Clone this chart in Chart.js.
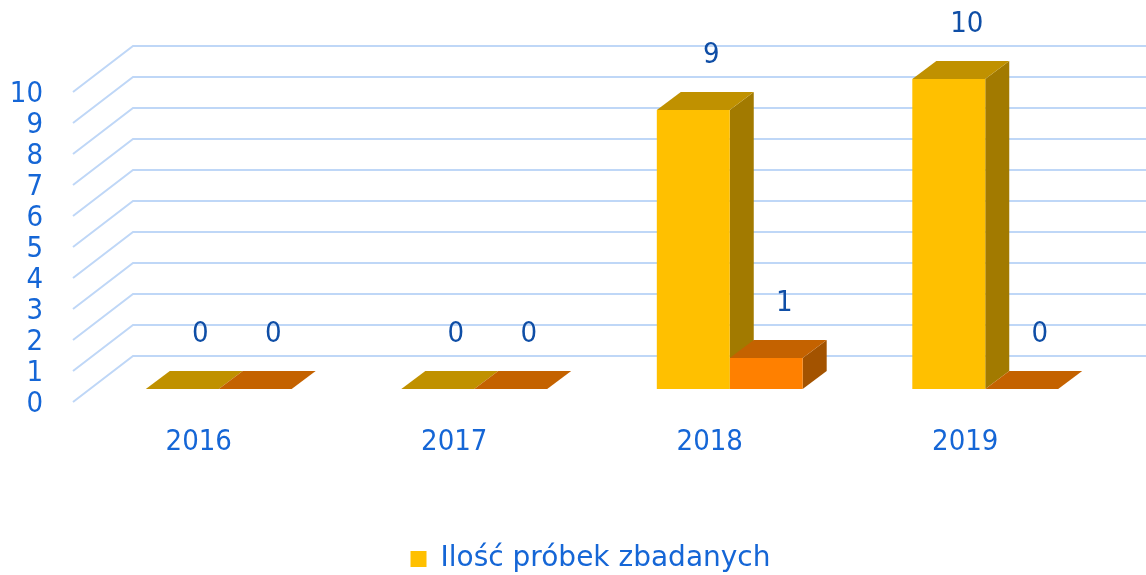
<!DOCTYPE html>
<html>
<head>
<meta charset="utf-8">
<script src="https://cdn.jsdelivr.net/npm/chart.js@4.4.1/dist/chart.umd.min.js"></script>
<style>
  html, body { margin: 0; padding: 0; background: #ffffff; }
  #wrap { width: 1146px; height: 575px; }
</style>
</head>
<body>
<div id="wrap"><canvas id="chart" width="1146" height="575"></canvas></div>
<script>
// Sample counts per year
const years = ['2016', '2017', '2018', '2019'];
const testedSamples = [0, 0, 9, 10];
const positiveSamples = [0, 0, 1, 0];
const legendLabel = 'Ilość próbek zbadanych';
const yMin = 0;
const yMax = 10;
const yStep = 1;

const FONT = "'DejaVu Sans', Verdana, sans-serif";
const NUM_FONT = "'DejaVu Sans Condensed', 'DejaVu Sans', sans-serif";
const AXIS_BLUE = '#1566d6';
const LABEL_BLUE = '#0f4ea6';

// Face colours for the pseudo-3D columns: front / top / side
const faces = [
  { front: '#ffc000', top: '#c09100', side: '#a27a00' },
  { front: '#ff8000', top: '#c46200', side: '#a35300' }
];

// Oblique projection offsets
const BAR_DX = 24, BAR_DY = -18;      // column depth
const FRONT_DX = -18, FRONT_DY = 13;  // from the column plane to the front edge of the floor
const BACK_DX = 42, BACK_DY = -33;    // from the column plane to the back wall

function poly(ctx, pts, color) {
  ctx.beginPath();
  ctx.moveTo(pts[0][0], pts[0][1]);
  for (let i = 1; i < pts.length; i++) ctx.lineTo(pts[i][0], pts[i][1]);
  ctx.closePath();
  ctx.fillStyle = color;
  ctx.fill();
}

const box3d = {
  id: 'box3d',
  afterLayout(chart) {
    // legend sits slightly right of centre and low on the canvas
    const lg = chart.legend;
    if (lg) {
      lg.left += 34; lg.right += 34;
      lg.top += 8; lg.bottom += 8;
    }
  },
  beforeDatasetsDraw(chart) {
    const { ctx, chartArea, scales: { y } } = chart;
    ctx.save();
    // back wall and side wall grid
    ctx.strokeStyle = '#bfd7f7';
    ctx.lineWidth = 2;
    y.ticks.forEach(t => {
      const py = y.getPixelForValue(t.value);
      const fx = chartArea.left + FRONT_DX, fy = py + FRONT_DY;
      const bx = chartArea.left + BACK_DX, by = py + BACK_DY;
      ctx.beginPath();
      ctx.moveTo(fx, fy);
      ctx.lineTo(bx, by);
      ctx.lineTo(chart.width, by);
      ctx.stroke();
    });
    // top and side faces of the columns, series by series left to right;
    // front faces are painted afterwards by the bar controller
    chart.data.datasets.forEach((ds, di) => {
      const meta = chart.getDatasetMeta(di);
      const f = faces[di];
      meta.data.forEach(bar => {
        const p = bar.getProps(['x', 'y', 'base', 'width'], true);
        const l = p.x - p.width / 2, r = p.x + p.width / 2;
        const top = Math.min(p.y, p.base), base = Math.max(p.y, p.base);
        poly(ctx, [[r, top], [r + BAR_DX, top + BAR_DY], [r + BAR_DX, base + BAR_DY], [r, base]], f.side);
        poly(ctx, [[l, top], [r, top], [r + BAR_DX, top + BAR_DY], [l + BAR_DX, top + BAR_DY]], f.top);
      });
    });
    ctx.restore();
  },
  afterDatasetsDraw(chart) {
    const { ctx } = chart;
    ctx.save();
    ctx.font = '29px ' + NUM_FONT;
    ctx.fillStyle = LABEL_BLUE;
    ctx.textAlign = 'center';
    ctx.textBaseline = 'alphabetic';
    chart.data.datasets.forEach((ds, di) => {
      const meta = chart.getDatasetMeta(di);
      meta.data.forEach((bar, i) => {
        const p = bar.getProps(['x', 'y'], true);
        ctx.fillText(String(ds.data[i]), p.x + 18, p.y - 47);
      });
    });
    ctx.restore();
  }
};

new Chart(document.getElementById('chart'), {
  type: 'bar',
  data: {
    labels: years,
    datasets: [
      {
        label: legendLabel,
        data: testedSamples,
        backgroundColor: faces[0].front,
        borderWidth: 0
      },
      {
        label: 'positive',
        data: positiveSamples,
        backgroundColor: faces[1].front,
        borderWidth: 0
      }
    ]
  },
  options: {
    responsive: false,
    devicePixelRatio: 1,
    animation: false,
    layout: { padding: { top: 79, right: 33, left: 0, bottom: 0 } },
    datasets: {
      bar: { categoryPercentage: 0.571, barPercentage: 1.0 }
    },
    scales: {
      x: {
        grid: { display: false, drawTicks: false },
        border: { display: false },
        ticks: {
          color: AXIS_BLUE,
          font: { family: NUM_FONT, size: 29 },
          padding: 36,
          labelOffset: -20,
          maxRotation: 0
        },
        afterFit(scale) { scale.height = 138; }
      },
      y: {
        min: yMin,
        max: yMax,
        grid: { display: false, drawTicks: false },
        border: { display: false },
        ticks: {
          stepSize: yStep,
          autoSkip: false,
          color: AXIS_BLUE,
          font: { family: NUM_FONT, size: 29, lineHeight: 1 },
          padding: 48,
          labelOffset: 15
        },
        afterFit(scale) { scale.width = 91; }
      }
    },
    plugins: {
      legend: {
        position: 'bottom',
        labels: {
          color: AXIS_BLUE,
          font: { family: FONT, size: 28 },
          boxWidth: 16,
          boxHeight: 16,
          padding: 10,
          filter: item => item.datasetIndex === 0
        }
      },
      tooltip: { enabled: false }
    }
  },
  plugins: [box3d]
});
</script>
</body>
</html>
